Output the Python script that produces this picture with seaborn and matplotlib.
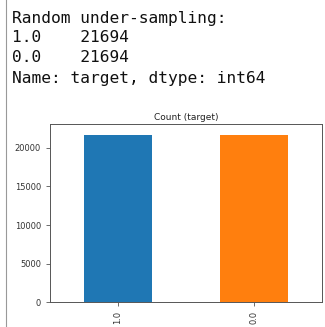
import matplotlib
matplotlib.use("Agg")
import matplotlib.pyplot as plt
from matplotlib.lines import Line2D
import seaborn as sns
import pandas as pd

categories = ["1.0", "0.0"]
counts = [21694, 21694]
colors = ["#1f77b4", "#ff7f0e"]
yticks = [0, 5000, 10000, 15000, 20000]

df = pd.DataFrame({"target": categories, "count": counts})

fig = plt.figure(figsize=(3.25, 3.27), dpi=100)
ax = fig.add_axes([0.154, 0.076, 0.837, 0.545])
sns.barplot(data=df, x="target", y="count", hue="target", palette=colors,
            order=categories, width=0.5, legend=False, ax=ax, saturation=1)
ax.set_ylim(0, max(counts) * 1.065)
ax.set_xlim(-0.5, 1.5)
ax.set_yticks(yticks)
ax.set_yticklabels([str(t) for t in yticks], fontsize=6, color="#333333")
ax.set_xticks(range(len(categories)))
ax.set_xticklabels(categories, rotation=90, fontsize=6, color="#333333")
ax.tick_params(length=3, width=0.6, colors="#555555", labelcolor="#333333")
ax.set_xlabel("")
ax.set_ylabel("")
ax.set_title("Count (target)", fontsize=6.5, pad=3, color="#222222")
for s in ax.spines.values():
    s.set_linewidth(0.7)
    s.set_color("#555555")

lines = ["Random under-sampling:", "1.0    21694", "0.0    21694",
         "Name: target, dtype: int64"]
for i, t in enumerate(lines):
    fig.text(12 / 325, 1 - (18 + 20 * i) / 327, t, family="DejaVu Sans Mono",
             fontsize=11.7, va="center", ha="left", color="#111111")

fig.add_artist(Line2D([6 / 325, 6 / 325], [0, 1], color="#999999", lw=0.8,
                      transform=fig.transFigure))

fig.savefig("out.png", dpi=100)
